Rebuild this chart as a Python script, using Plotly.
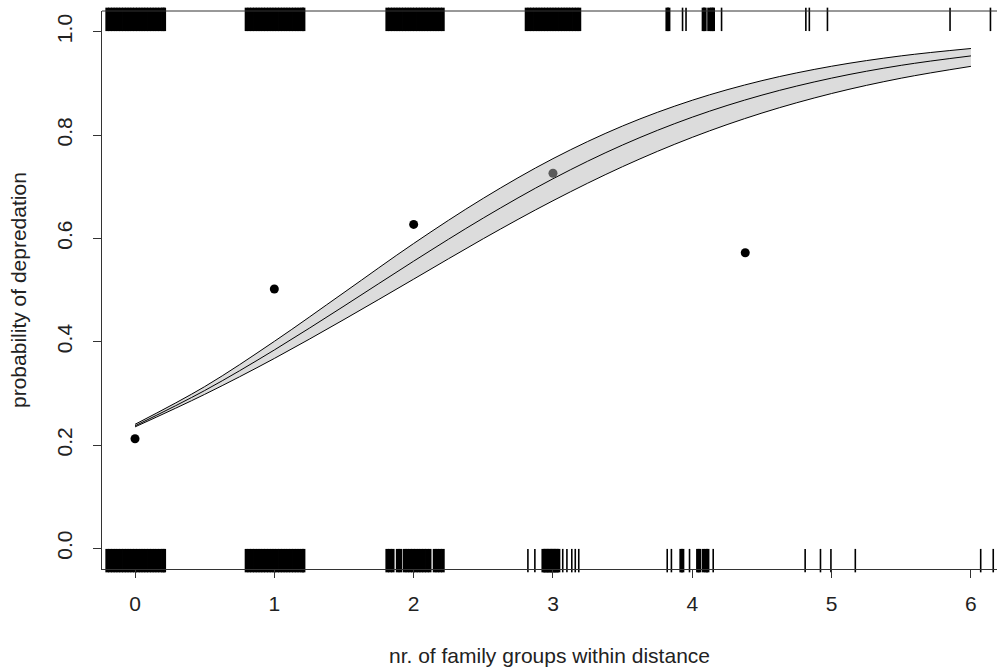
import plotly.graph_objects as go

# ---- data ----
obs_x = [0, 1, 2, 3, 4.38]
obs_y = [0.212, 0.502, 0.627, 0.726, 0.572]

fit_x = [0, 0.5, 1, 1.5, 2, 2.5, 3, 3.5, 4, 4.5, 5, 5.5, 6]
fit_mid = [0.237, 0.3054, 0.3839, 0.4689, 0.5558, 0.6393, 0.7153, 0.7807, 0.8345, 0.8772, 0.9101, 0.9349, 0.9531]
fit_upper = [0.240, 0.3130, 0.4006, 0.4951, 0.5900, 0.6775, 0.7542, 0.8175, 0.8673, 0.9052, 0.9331, 0.9532, 0.9674]
fit_lower = [0.235, 0.2980, 0.3675, 0.4429, 0.5210, 0.5993, 0.6728, 0.7388, 0.7955, 0.8425, 0.8803, 0.9100, 0.9329]

rug_top = [-0.20, -0.18, -0.16, -0.14, -0.12, -0.10, -0.08, -0.06, -0.04, -0.02, 0.00, 0.02, 0.04, 0.06, 0.08, 0.10, 0.12, 0.14, 0.16, 0.18, 0.20, 0.21,
           0.80, 0.82, 0.84, 0.86, 0.88, 0.90, 0.92, 0.94, 0.96, 0.98, 1.00, 1.02, 1.04, 1.06, 1.08, 1.10, 1.12, 1.14, 1.16, 1.18, 1.20, 1.21,
           1.81, 1.83, 1.85, 1.87, 1.89, 1.91, 1.93, 1.95, 1.97, 1.99, 2.01, 2.03, 2.05, 2.07, 2.09, 2.11, 2.13, 2.15, 2.17, 2.19, 2.21,
           2.81, 2.83, 2.85, 2.87, 2.89, 2.91, 2.93, 2.95, 2.97, 2.99, 3.01, 3.03, 3.05, 3.07, 3.09, 3.11, 3.13, 3.15, 3.17, 3.19,
           3.82, 3.83, 3.93, 3.955, 4.08, 4.09, 4.12, 4.14, 4.15, 4.21,
           4.815, 4.84, 4.97, 5.85, 6.14]
rug_bottom = [-0.20, -0.18, -0.16, -0.14, -0.12, -0.10, -0.08, -0.06, -0.04, -0.02, 0.00, 0.02, 0.04, 0.06, 0.08, 0.10, 0.12, 0.14, 0.16, 0.18, 0.20, 0.21,
              0.80, 0.82, 0.84, 0.86, 0.88, 0.90, 0.92, 0.94, 0.96, 0.98, 1.00, 1.02, 1.04, 1.06, 1.08, 1.10, 1.12, 1.14, 1.16, 1.18, 1.20, 1.21,
              1.81, 1.83, 1.85, 1.885, 1.905, 1.935, 1.955, 1.975, 1.995, 2.015, 2.035, 2.055, 2.075, 2.095, 2.115, 2.15, 2.17, 2.19, 2.21,
              2.82, 2.87, 2.93, 2.94, 2.95, 2.96, 2.97, 2.98, 2.99, 3.00, 3.01, 3.02, 3.03, 3.04, 3.07, 3.10, 3.135, 3.16, 3.185,
              3.82, 3.85, 3.92, 3.93, 3.98, 4.04, 4.05, 4.08, 4.10, 4.11, 4.15,
              4.81, 4.92, 4.995, 5.17, 6.07, 6.16]

x_ticks = [0, 1, 2, 3, 4, 5, 6]
y_ticks = [0.0, 0.2, 0.4, 0.6, 0.8, 1.0]
y_tick_text = ["0.0", "0.2", "0.4", "0.6", "0.8", "1.0"]

X_RANGE = [-0.237, 6.187]
Y_RANGE = [-0.04, 1.04]
RUG_FRAC = 0.03
PLOT_H = 670 - 11 - 101
RUG_PX = RUG_FRAC * PLOT_H

FONT = "Liberation Sans, Arial, sans-serif"
FS = 21


def rug_widths(vals):
    # thicker strokes where ticks are packed closely, so dense runs render solid
    w = []
    for i, v in enumerate(vals):
        n = sum(1 for j, o in enumerate(vals) if j != i and abs(v - o) < 0.0245)
        w.append(3.6 if n >= 1 else 1.6)
    return w


fig = go.Figure()

# confidence band
fig.add_trace(go.Scatter(x=fit_x, y=fit_lower, mode="lines", line=dict(color="black", width=1, shape="spline"),
                         hoverinfo="skip", showlegend=False))
fig.add_trace(go.Scatter(x=fit_x, y=fit_upper, mode="lines", line=dict(color="black", width=1, shape="spline"),
                         fill="tonexty", fillcolor="#dcdcdc", hoverinfo="skip", showlegend=False))
fig.add_trace(go.Scatter(x=fit_x, y=fit_mid, mode="lines", line=dict(color="black", width=1, shape="spline"),
                         showlegend=False))

# rugs (vertical line markers anchored to the frame)
rug_len_data = RUG_FRAC * (Y_RANGE[1] - Y_RANGE[0])
for vals, yc in [(rug_top, Y_RANGE[1] - rug_len_data / 2), (rug_bottom, Y_RANGE[0] + rug_len_data / 2)]:
    fig.add_trace(go.Scatter(
        x=vals, y=[yc] * len(vals), mode="markers", showlegend=False, hoverinfo="skip", cliponaxis=False,
        marker=dict(symbol="line-ns", size=RUG_PX, color="black",
                    line=dict(color="black", width=rug_widths(vals)))))

# observed points
pt_colors = ["black", "black", "black", "#5a5a5a", "black"]
fig.add_trace(go.Scatter(x=obs_x, y=obs_y, mode="markers", marker=dict(color=pt_colors, size=9),
                         showlegend=False))

fig.update_layout(
    width=997, height=670,
    margin=dict(l=102, r=0, t=11, b=101),
    plot_bgcolor="white", paper_bgcolor="white",
    font=dict(family=FONT, size=FS, color="#222"),
    xaxis=dict(range=X_RANGE, tickvals=x_ticks, showgrid=False, zeroline=False,
               showline=True, linecolor="#333", linewidth=1,
               ticks="outside", ticklen=8, tickcolor="#333", ticklabelstandoff=8,
               tickfont=dict(size=FS)),
    yaxis=dict(range=Y_RANGE, tickvals=y_ticks, ticktext=y_tick_text, showgrid=False, zeroline=False,
               showline=True, linecolor="#333", linewidth=1,
               ticks="outside", ticklen=8, tickcolor="#333", tickangle=-90, ticklabelstandoff=13,
               tickfont=dict(size=FS)),
    shapes=[dict(type="line", xref="paper", yref="paper", x0=0, x1=1, y0=1, y1=1,
                 line=dict(color="#333", width=1))],
    annotations=[
        dict(text="nr. of family groups within distance", xref="paper", yref="paper", x=0.5, y=0,
             xanchor="center", yanchor="middle", yshift=-86, showarrow=False, font=dict(size=FS)),
        dict(text="probability of depredation", xref="paper", yref="paper", x=0, y=0.5,
             xanchor="center", yanchor="middle", xshift=-84, textangle=-90, showarrow=False, font=dict(size=FS)),
    ],
)

fig.write_html("out.html", config={"displayModeBar": False},
               post_script="document.body.style.margin='0';document.body.style.overflow='hidden';")
